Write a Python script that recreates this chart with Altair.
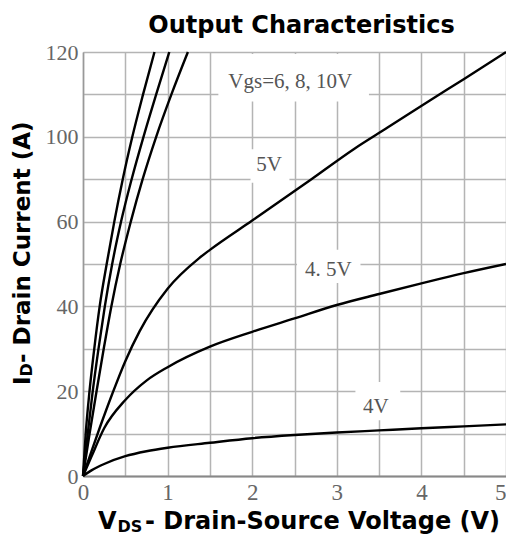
import altair as alt
import pandas as pd

# ---- curve data (V_DS in volts, I_D on the chart's vertical scale) ----
vds_4v = [0, 0.1, 0.25, 0.5, 0.75, 1.0, 1.5, 2.0, 2.5, 3.0, 3.5, 4.0, 4.5, 5.0]
id_4v = [0, 1.6, 3.4, 5.6, 7.0, 8.0, 9.4, 10.7, 11.6, 12.3, 12.9, 13.5, 14.05, 14.6]

vds_45v = [0, 0.1, 0.25, 0.5, 0.75, 1.0, 1.5, 2.0, 2.5, 3.0, 3.5, 4.0, 4.5, 5.0]
id_45v = [0, 5.5, 13.5, 21.5, 27, 30.8, 36.6, 40.8, 44.6, 48.4, 51.5, 54.5, 57.4, 60]

vds_5v = [0, 0.1, 0.2, 0.35, 0.5, 0.67, 1.0, 1.37, 1.5, 2.0, 2.7, 3.2, 3.6, 4.1, 4.5, 5.0]
id_5v = [0, 7, 13.8, 23.5, 32.5, 41, 53, 61.6, 64, 72.3, 84, 92.5, 98.6, 106.3, 112.3, 120]

id_steep = [0, 12, 24, 36, 48, 60, 72, 84, 96, 108, 120]
vds_10v = [0, 0.032, 0.077, 0.133, 0.197, 0.28, 0.37, 0.47, 0.583, 0.71, 0.845]
vds_8v = [0, 0.056, 0.115, 0.183, 0.258, 0.345, 0.45, 0.575, 0.715, 0.865, 1.02]
vds_6v = [0, 0.078, 0.16, 0.245, 0.335, 0.44, 0.565, 0.705, 0.865, 1.045, 1.24]

y_tick_labels = ["0", "20", "40", "60", "100", "120"]

# ---- curve annotations ----
ann_text = ["Vgs=6, 8, 10V", "5V", "4. 5V", "4V"]
ann_x = [2.45, 2.2, 2.9, 3.46]
ann_y = [111.5, 88, 58.3, 19.5]
box_x1 = [1.6, 1.98, 2.53, 3.22]
box_x2 = [3.38, 2.44, 3.28, 3.75]
box_y1 = [106, 83, 54.6, 15.8]
box_y2 = [119.4, 92.5, 64, 26.6]

rows = []
for name, xs, ys in [("4V", vds_4v, id_4v), ("4.5V", vds_45v, id_45v),
                     ("5V", vds_5v, id_5v), ("6V", vds_6v, id_steep),
                     ("8V", vds_8v, id_steep), ("10V", vds_10v, id_steep)]:
    for xv, yv in zip(xs, ys):
        rows.append({"vds": xv, "id": yv, "vgs": name})
df = pd.DataFrame(rows)

ann = pd.DataFrame({"text": ann_text, "x": ann_x, "y": ann_y,
                    "x1": box_x1, "x2": box_x2, "y1": box_y1, "y2": box_y2})

x_scale = alt.Scale(domain=[0, 5], nice=False, zero=False)
y_scale = alt.Scale(domain=[0, 120], nice=False)

label_list = "[" + ",".join("'" + s + "'" for s in y_tick_labels) + "]"

x_axis = alt.Axis(
    values=[i * 0.5 for i in range(11)],
    labelExpr="datum.value % 1 == 0 ? format(datum.value, 'd') : ''",
    labelAlign=alt.condition("datum.value == 5", alt.value("right"), alt.value("center")),
    grid=True, gridColor="#b4b4b4", gridWidth=1.5,
    ticks=False, domainColor="#888", domainWidth=2,
    labelFont="Liberation Serif", labelFontSize=23, labelColor="#666",
    labelPadding=5, labelFlush=False, labelOverlap=False, title=None,
)
y_axis = alt.Axis(
    values=[i * 12 for i in range(11)],
    labelExpr="datum.value % 24 == 0 ? " + label_list + "[round(datum.value / 24)] : ''",
    grid=True, gridColor="#b4b4b4", gridWidth=1.5,
    ticks=False, domainColor="#999", domainWidth=1.5,
    labelFont="Liberation Serif", labelFontSize=22, labelColor="#666",
    labelPadding=5, labelFlush=False, labelOverlap=False, title=None,
)

base = alt.Chart(df)

lines = base.mark_line(color="black", strokeWidth=2.4, interpolate="monotone").encode(
    x=alt.X("vds:Q", scale=x_scale, axis=x_axis),
    y=alt.Y("id:Q", scale=y_scale, axis=y_axis),
    detail="vgs:N",
    order="vds:Q",
)

boxes = alt.Chart(ann).mark_rect(color="white").encode(
    x=alt.X("x1:Q", scale=x_scale), x2="x2:Q",
    y=alt.Y("y1:Q", scale=y_scale), y2="y2:Q",
)
texts = alt.Chart(ann).mark_text(
    font="Liberation Serif", fontSize=21, color="#555", baseline="middle", align="center"
).encode(
    x=alt.X("x:Q", scale=x_scale), y=alt.Y("y:Q", scale=y_scale), text="text:N"
)

one = alt.Data(values=[{"k": 1}])
bold = dict(font="DejaVu Sans", fontWeight="bold", color="black")

title = alt.Chart(one).mark_text(fontSize=24, align="center", baseline="alphabetic", **bold).encode(
    x=alt.value(218.5), y=alt.value(-19.5), text=alt.value("Output Characteristics"))

xt_v = alt.Chart(one).mark_text(fontSize=24, align="left", baseline="alphabetic", **bold).encode(
    x=alt.value(15), y=alt.value(476.5), text=alt.value("V"))
xt_sub = alt.Chart(one).mark_text(fontSize=16, align="left", baseline="alphabetic", **bold).encode(
    x=alt.value(34.5), y=alt.value(480), text=alt.value("DS"))
xt_main = alt.Chart(one).mark_text(fontSize=24, align="left", baseline="alphabetic", **bold).encode(
    x=alt.value(62), y=alt.value(476.5), text=alt.value("- Drain-Source Voltage (V)"))

yt_i = alt.Chart(one).mark_text(fontSize=23, angle=270, align="left", baseline="alphabetic", **bold).encode(
    x=alt.value(-53), y=alt.value(333), text=alt.value("I"))
yt_sub = alt.Chart(one).mark_text(fontSize=16, angle=270, align="left", baseline="alphabetic", **bold).encode(
    x=alt.value(-51), y=alt.value(324.4), text=alt.value("D"))
yt_main = alt.Chart(one).mark_text(fontSize=23, angle=270, align="left", baseline="alphabetic", **bold).encode(
    x=alt.value(-53), y=alt.value(311), text=alt.value("- Drain Current (A)"))

chart = alt.layer(
    boxes, texts, lines, title, xt_v, xt_sub, xt_main, yt_i, yt_sub, yt_main
).properties(
    width=423, height=424,
    autosize=alt.AutoSizeParams(type="none"),
    padding={"left": 75, "top": 44, "right": 0, "bottom": 60},
).configure_view(
    stroke="#999", strokeWidth=1.5
).configure(background="white")

chart.save("out.html", embed_options={"renderer": "svg", "actions": False})
